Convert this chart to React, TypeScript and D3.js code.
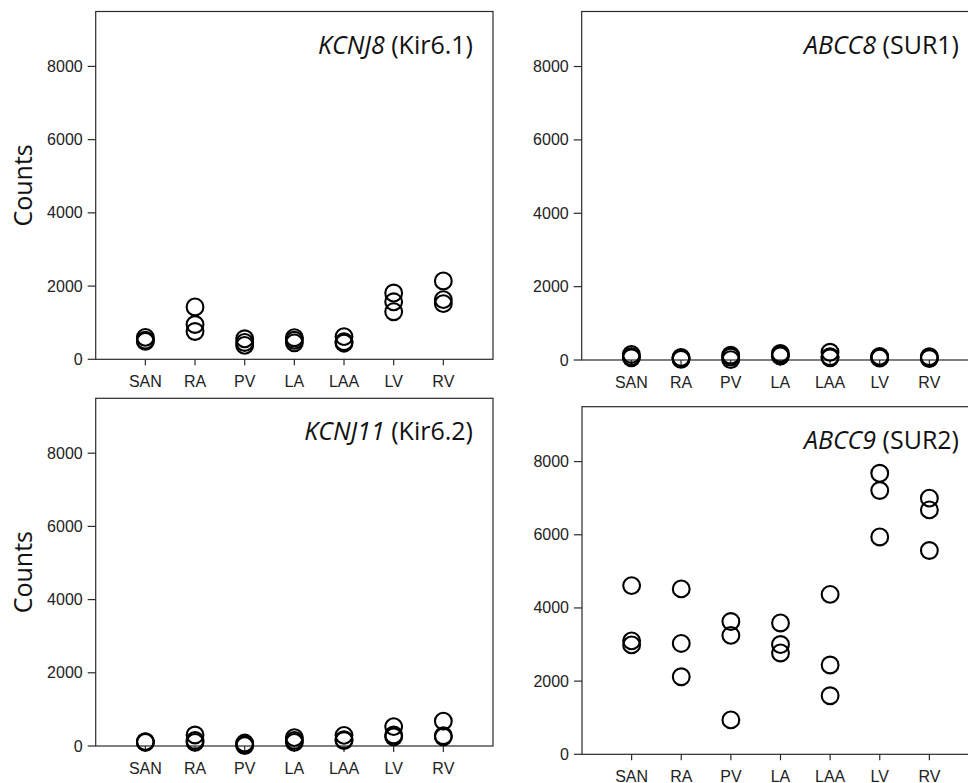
import * as d3 from "d3";

const regions = ["SAN", "RA", "PV", "LA", "LAA", "LV", "RV"];
const yTicks = [0, 2000, 4000, 6000, 8000];

// three samples per region
const kcnj8 = [
  [600, 520, 490],
  [1430, 950, 760],
  [560, 460, 380],
  [590, 520, 450],
  [620, 480, 440],
  [1810, 1570, 1300],
  [2140, 1630, 1520],
];
const abcc8 = [
  [150, 90, 60],
  [70, 40, 20],
  [130, 80, 10],
  [180, 140, 110],
  [210, 90, 60],
  [100, 70, 50],
  [90, 60, 40],
];
const kcnj11 = [
  [120, 110, 100],
  [300, 150, 100],
  [80, 40, 10],
  [230, 150, 100],
  [290, 170, 150],
  [530, 300, 250],
  [680, 280, 250],
];
const abcc9 = [
  [4610, 3100, 2990],
  [4520, 3030, 2120],
  [3630, 3250, 940],
  [3590, 3000, 2770],
  [4370, 2440, 1600],
  [7680, 7210, 5940],
  [7000, 6680, 5570],
];

const genes = ["KCNJ8", "ABCC8", "KCNJ11", "ABCC9"];
const proteins = ["(Kir6.1)", "(SUR1)", "(Kir6.2)", "(SUR2)"];
const series = [kcnj8, abcc8, kcnj11, abcc9];

const W = 968;
const H = 783;
const Y_MAX = 9500;
const LINE = "#2a2a2a";
const TICK_FONT = "'Liberation Sans', Arial, sans-serif";
const LABEL_FONT = "'Open Sans', 'Noto Sans', sans-serif";

const PANELS = [
  { left: 95.7, top: 11.5, bottom: 359.3, right: 493, counts: true },
  { left: 581.7, top: 11.5, bottom: 360, right: 979, counts: false },
  { left: 95.7, top: 398.3, bottom: 746, right: 493, counts: true },
  { left: 582, top: 406.7, bottom: 754.3, right: 979, counts: false },
];

const Panel = ({ idx }: { idx: number }) => {
  const p = PANELS[idx];
  const data = series[idx];
  const x = d3.scaleLinear().domain([0, regions.length + 1]).range([p.left, p.right]);
  const y = d3.scaleLinear().domain([0, Y_MAX]).range([p.bottom, p.top]);

  return (
    <g>
      <rect
        x={p.left}
        y={p.top}
        width={p.right - p.left}
        height={p.bottom - p.top}
        fill="none"
        stroke={LINE}
        strokeWidth={1.2}
      />
      {yTicks.map((t) => (
        <g key={t}>
          <line x1={p.left - 8} x2={p.left} y1={y(t)} y2={y(t)} stroke={LINE} strokeWidth={1.2} />
          <text
            x={p.left - 13}
            y={y(t)}
            textAnchor="end"
            dominantBaseline="central"
            fontFamily={TICK_FONT}
            fontSize={16}
            fill="#222"
          >
            {t}
          </text>
        </g>
      ))}
      {regions.map((r, i) => (
        <g key={r}>
          <line x1={x(i + 1)} x2={x(i + 1)} y1={p.bottom} y2={p.bottom + 6} stroke={LINE} strokeWidth={1.2} />
          <text
            x={x(i + 1)}
            y={p.bottom + 27.5}
            textAnchor="middle"
            fontFamily={TICK_FONT}
            fontSize={16}
            fill="#222"
          >
            {r}
          </text>
        </g>
      ))}
      {data.map((vals, i) =>
        vals.map((v, j) => (
          <circle
            key={`${i}-${j}`}
            cx={x(i + 1)}
            cy={y(v)}
            r={8.4}
            fill="none"
            stroke="#000"
            strokeWidth={2.1}
          />
        ))
      )}
      <text
        x={p.right - 20}
        y={p.top + 42}
        textAnchor="end"
        fontFamily={LABEL_FONT}
        fontSize={25}
        fill="#111"
      >
        <tspan fontStyle="italic">{genes[idx]}</tspan>
        <tspan> {proteins[idx]}</tspan>
      </text>
      {p.counts && (
        <text
          transform={`translate(22,${(p.top + p.bottom) / 2}) rotate(-90)`}
          textAnchor="middle"
          dominantBaseline="central"
          fontFamily={LABEL_FONT}
          fontSize={25}
          fill="#111"
        >
          Counts
        </text>
      )}
    </g>
  );
};

export default function App() {
  return (
    <svg
      width={W}
      height={H}
      style={{ position: "absolute", left: 0, top: 0, background: "#fff" }}
    >
      {PANELS.map((_, i) => (
        <Panel key={i} idx={i} />
      ))}
    </svg>
  );
}
